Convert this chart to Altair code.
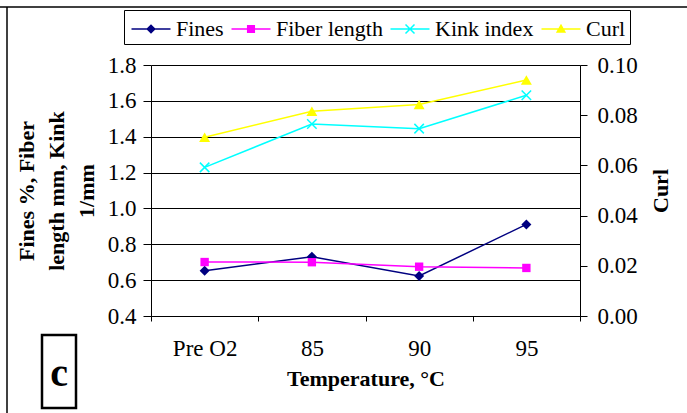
import altair as alt
import pandas as pd

categories = ["Pre O2", "85", "90", "95"]
fines = [0.653, 0.731, 0.623, 0.911]
fiber_length = [0.701, 0.700, 0.675, 0.668]
kink_index = [1.229, 1.471, 1.445, 1.631]
curl = [0.0712, 0.0816, 0.0843, 0.0940]

series_names = ["Fines", "Fiber length", "Kink index", "Curl"]
series_colors = ["#000080", "#FF00FF", "#00FFFF", "#FFFF00"]
left_ticks = [0.4, 0.6, 0.8, 1.0, 1.2, 1.4, 1.6, 1.8]
right_ticks = [0.0, 0.02, 0.04, 0.06, 0.08, 0.10]

rows = []
for name, vals in zip(series_names, [fines, fiber_length, kink_index, curl]):
    for c, v in zip(categories, vals):
        rows.append({"temp": c, "series": name, "value": v})
df = pd.DataFrame(rows)

FONT = "Liberation Serif"
W, H = 429, 251

X_PATH = "M-1,-1L1,1M-1,1L1,-1"
LINE = "M-1.3,-0.05L1.3,-0.05L1.3,0.05L-1.3,0.05Z"
legend_paths = [
    LINE + "M0,-0.32L0.32,0L0,0.32L-0.32,0Z",
    LINE + "M-0.27,-0.27L0.27,-0.27L0.27,0.27L-0.27,0.27Z",
    LINE + "M-0.265,-0.335L0.335,0.265L0.265,0.335L-0.335,-0.265Z"
           "M0.265,-0.335L0.335,-0.265L-0.265,0.335L-0.335,0.265Z",
    LINE + "M0,-0.35L0.34,0.25L-0.34,0.25Z",
]

color_scale = alt.Scale(domain=series_names, range=series_colors)

x_enc = alt.X(
    "temp:N", sort=categories, bandPosition=0.5,
    scale=alt.Scale(type="band", paddingInner=0, paddingOuter=0),
    axis=alt.Axis(
        title="Temperature, °C", tickBand="extent", labelAngle=0,
        domainColor="black", tickColor="black", tickSize=5,
        labelFont=FONT, labelFontSize=23, labelColor="black", labelPadding=16,
        titleFont=FONT, titleFontSize=22, titleFontWeight="bold", titleColor="black",
        titleY=69, titleBaseline="alphabetic", grid=False,
    ),
)

y_left = alt.Y(
    "value:Q",
    scale=alt.Scale(domain=[0.4, 1.8], nice=False, zero=False),
    axis=alt.Axis(
        values=left_ticks, format=".1f", grid=True, gridColor="black", gridWidth=1,
        gridOpacity=1, domainColor="black", tickColor="black", tickSize=8,
        labelFont=FONT, labelFontSize=23, labelColor="black", labelPadding=7,
        title=["Fines %, Fiber", "length mm, Kink", "1/mm"],
        titleFont=FONT, titleFontSize=22, titleFontWeight="bold", titleColor="black",
        titleAngle=270, titleX=-125, titleY=125.5, titleAlign="center",
        titleBaseline="middle", titleLineHeight=30,
    ),
)

y_right = alt.Y(
    "value:Q",
    scale=alt.Scale(domain=[0, 0.1], nice=False, zero=False),
    axis=alt.Axis(
        orient="right", values=right_ticks, format=".2f", grid=False,
        domainColor="black", tickColor="black", tickSize=7,
        labelFont=FONT, labelFontSize=23, labelColor="black", labelPadding=10,
        title="Curl", titleFont=FONT, titleFontSize=22, titleFontWeight="bold",
        titleColor="black", titleAngle=270, titleX=80, titleY=125.5,
        titleAlign="center", titleBaseline="middle",
    ),
)

df_left = df[df["series"] != "Curl"]
df_curl = df[df["series"] == "Curl"]

color_plain = alt.Color("series:N", scale=color_scale)

leg = alt.Legend(
    orient="none", legendX=-27, legendY=-55, direction="horizontal", columns=4,
    title=None, labelFont=FONT, labelFontSize=22, labelColor="black",
    symbolSize=900, symbolOffset=8, labelOffset=10, columnPadding=4,
    padding=4, strokeColor="black", fillColor="white", symbolStrokeWidth=0,
)
legend_layer = alt.Chart(df).transform_filter("false").mark_point(
    filled=True, opacity=1
).encode(
    color=alt.Color("series:N", scale=color_scale, legend=leg),
    shape=alt.Shape("series:N", scale=alt.Scale(domain=series_names, range=legend_paths), legend=leg),
)

left_line = alt.Chart(df_left).mark_line(strokeWidth=1.5).encode(
    x=x_enc, y=y_left, color=color_plain)


def pts(name, **mk):
    return alt.Chart(df_left).transform_filter(
        alt.datum.series == name
    ).mark_point(opacity=1, **mk).encode(x=x_enc, y=y_left, color=color_plain)


fines_pts = pts("Fines", shape="diamond", filled=True, size=100)
fiber_pts = pts("Fiber length", shape="square", filled=True, size=70)
kink_pts = pts("Kink index", shape=X_PATH, filled=False, size=90, strokeWidth=1.5)

left = alt.layer(left_line, fines_pts, fiber_pts, kink_pts)

curl_line = alt.Chart(df_curl).mark_line(strokeWidth=1.5).encode(
    x=x_enc, y=y_right, color=color_plain)
curl_pts = alt.Chart(df_curl).mark_point(
    shape="triangle-up", filled=True, size=120, opacity=1
).encode(x=x_enc, y=y_right, color=color_plain)
right = alt.layer(curl_line, curl_pts)

one = pd.DataFrame({"k": [0]})
frame_top = alt.Chart(one).mark_rule(color="black", strokeWidth=1.5).encode(
    x=alt.value(-151), x2=alt.value(540), y=alt.value(-58))
frame_left = alt.Chart(one).mark_rule(color="black", strokeWidth=1.5).encode(
    x=alt.value(-144), y=alt.value(-58), y2=alt.value(350))
c_box = alt.Chart(one).mark_rect(fill="white", stroke="black", strokeWidth=2.5).encode(
    x=alt.value(-109), x2=alt.value(-75), y=alt.value(270), y2=alt.value(343))
c_text = alt.Chart(one).mark_text(
    text="c", font=FONT, fontSize=40, fontWeight="bold", color="black",
    align="center", baseline="alphabetic"
).encode(x=alt.value(-92), y=alt.value(321))

chart = alt.layer(
    legend_layer, left, right, frame_top, frame_left, c_box, c_text
).resolve_scale(y="independent").properties(
    width=W, height=H,
    padding={"left": 151, "top": 65, "right": 107, "bottom": 97},
    autosize=alt.AutoSizeParams(type="none"),
    background="white",
).configure_view(stroke=None)

chart.save("out.html", embed_options={"renderer": "svg", "actions": False})
